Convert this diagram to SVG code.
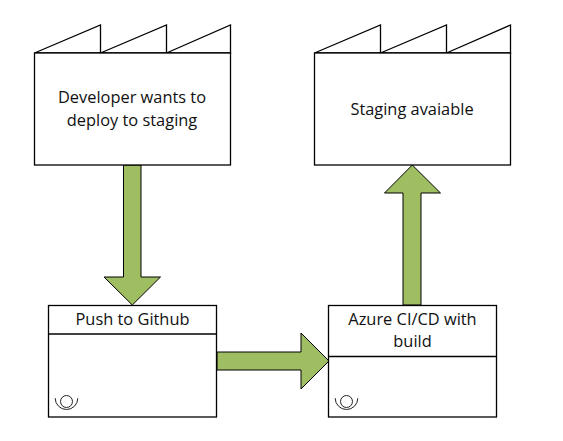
<svg xmlns="http://www.w3.org/2000/svg" width="563" height="441" viewBox="0 0 563 441">
<style>
.s{fill:#fff;stroke:#000;stroke-width:1.3}
.l{fill:none;stroke:#000;stroke-width:1.3}
.i{fill:none;stroke:#222;stroke-width:1}
.a{fill:#9fbe62;stroke:#000;stroke-width:1}
text{font-family:"Open Sans","Noto Sans","Liberation Sans",sans-serif;font-size:16.4px;fill:#111;text-anchor:middle}
</style>
<defs>
<path id="teeth" class="s" d="M0 28L66 0V28ZM66 28L132 0V28ZM132 28L196 0V28Z"/>
<g id="icon"><circle cx="0" cy="-0.2" r="6" class="i"/><path class="i" d="M-11.3 -3.5A11.3 11.3 0 0 0 11.3 -3.5"/></g>
</defs>
<rect width="563" height="441" fill="#fff"/>
<g id="connectors">
<path class="a" d="M123.5 165H141V277H160.5L132.3 305L104 277H123.5Z"/>
<path class="a" d="M217 352H301V333L329 361L301 389V370H217Z"/>
<path class="a" d="M403 305V193H384.5L412.3 165L440.5 193H421V305Z"/>
</g>
<g id="n1">
<use href="#teeth" x="34.5" y="25"/>
<rect class="s" x="34.5" y="53" width="196" height="112"/>
<text x="132" y="103">Developer wants to</text>
<text x="132" y="126">deploy to staging</text>
</g>
<g id="n2">
<use href="#teeth" x="314.5" y="25"/>
<rect class="s" x="314.5" y="53" width="196" height="112"/>
<text x="412" y="115">Staging avaiable</text>
</g>
<g id="n3">
<rect class="s" x="48.5" y="305.5" width="168" height="111.5"/>
<path class="l" d="M48.5 334H216.5"/>
<text x="132.5" y="325">Push to Github</text>
<use href="#icon" x="66.5" y="401.7"/>
</g>
<g id="n4">
<rect class="s" x="328.5" y="305.5" width="168" height="111.5"/>
<path class="l" d="M328.5 356.5H496.5"/>
<text x="412.5" y="325">Azure CI/CD with</text>
<text x="412.5" y="347">build</text>
<use href="#icon" x="346.5" y="401.7"/>
</g>
</svg>
